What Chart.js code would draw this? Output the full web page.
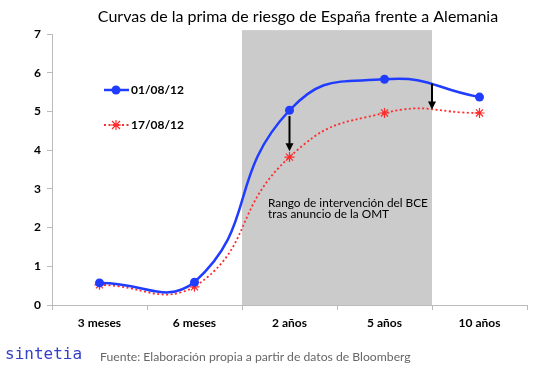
<!DOCTYPE html>
<html>
<head>
<meta charset="utf-8">
<script src="https://cdn.jsdelivr.net/npm/chart.js@4"></script>
<style>
  html, body { margin: 0; padding: 0; background: #fff; }
  #wrap { position: relative; width: 545px; height: 380px; }
  #logo { position: absolute; left: 5px; top: 344px; font: 16px 'DejaVu Sans Mono', monospace; color: #3540c8; }
  #source { position: absolute; left: 100px; top: 349px; font: 12.2px Lato, sans-serif; color: #666; }
</style>
</head>
<body>
<div id="wrap">
  <canvas id="myChart" width="545" height="380"></canvas>
  <div id="logo">sintetia</div>
  <div id="source">Fuente: Elaboración propia a partir de datos de Bloomberg</div>
</div>
<script>
const plazos = ['3 meses', '6 meses', '2 años', '5 años', '10 años'];
const prima0108 = [0.57, 0.59, 5.03, 5.83, 5.37];
const prima1708 = [0.52, 0.47, 3.82, 4.96, 4.96];
const yTicks = [0, 1, 2, 3, 4, 5, 6, 7];
// flechas: [posición en el eje x, desde, hasta]
const flechas = [[2, 4.88, 3.97], [3.5, 5.72, 5.05]];

// Zona gris, flechas, leyenda y texto
const extras = {
    id: 'extras',
    beforeDatasetsDraw: (chart) => {
        const ctx = chart.ctx;
        const x = chart.scales.x;
        const y = chart.scales.y;
        const left = (x.getPixelForValue(1) + x.getPixelForValue(2)) / 2;
        const right = (x.getPixelForValue(3) + x.getPixelForValue(4)) / 2;
        const top = y.getPixelForValue(7.1);
        const bottom = y.getPixelForValue(0);
        ctx.save();
        ctx.fillStyle = '#cbcbcb';
        ctx.fillRect(left, top, right - left, bottom - top);
        ctx.fillStyle = '#000';
        ctx.font = '11.8px Lato, sans-serif';
        ctx.textBaseline = 'alphabetic';
        ctx.fillText('Rango de intervención del BCE', left + 26, y.getPixelForValue(2.53));
        ctx.fillText('tras anuncio de la OMT', left + 26, y.getPixelForValue(2.26));
        ctx.restore();
    },
    afterDatasetsDraw: (chart) => {
        const ctx = chart.ctx;
        const x = chart.scales.x;
        const y = chart.scales.y;
        ctx.save();
        ctx.strokeStyle = '#000';
        ctx.fillStyle = '#000';
        ctx.lineWidth = 2;
        flechas.forEach((f) => {
            const i = Math.floor(f[0]);
            const px = f[0] === i ? x.getPixelForValue(i)
                : (x.getPixelForValue(i) + x.getPixelForValue(i + 1)) / 2;
            const y1 = y.getPixelForValue(f[1]);
            const y2 = y.getPixelForValue(f[2]);
            ctx.beginPath();
            ctx.moveTo(px, y1);
            ctx.lineTo(px, y2 - 6);
            ctx.stroke();
            ctx.beginPath();
            ctx.moveTo(px - 4, y2 - 8);
            ctx.lineTo(px + 4, y2 - 8);
            ctx.lineTo(px, y2);
            ctx.closePath();
            ctx.fill();
        });

        // Leyenda
        ctx.font = 'bold 12px Lato, sans-serif';
        ctx.textBaseline = 'middle';
        ctx.lineWidth = 2.5;
        ctx.strokeStyle = '#1f3cff';
        ctx.beginPath();
        ctx.moveTo(104, 90);
        ctx.lineTo(129, 90);
        ctx.stroke();
        ctx.fillStyle = '#1f3cff';
        ctx.beginPath();
        ctx.arc(116, 90, 4.5, 0, Math.PI * 2);
        ctx.fill();
        ctx.fillStyle = '#000';
        ctx.fillText('01/08/12', 131, 90);

        ctx.strokeStyle = '#ff2a2a';
        ctx.lineWidth = 1.8;
        ctx.setLineDash([2, 2.5]);
        ctx.beginPath();
        ctx.moveTo(104, 125);
        ctx.lineTo(129, 125);
        ctx.stroke();
        ctx.setLineDash([]);
        ctx.lineWidth = 1.2;
        ctx.beginPath();
        ctx.moveTo(112, 121); ctx.lineTo(120, 129);
        ctx.moveTo(120, 121); ctx.lineTo(112, 129);
        ctx.moveTo(116, 120); ctx.lineTo(116, 130);
        ctx.moveTo(111, 125); ctx.lineTo(121, 125);
        ctx.stroke();
        ctx.fillStyle = '#000';
        ctx.fillText('17/08/12', 131, 125);

        // Título
        ctx.font = '16px Lato, sans-serif';
        ctx.textAlign = 'center';
        ctx.fillText('Curvas de la prima de riesgo de España frente a Alemania', 298, 17);
        ctx.restore();
    }
};

const config = {
    type: 'line',
    data: {
        labels: plazos,
        datasets: [{
            label: '01/08/12',
            data: prima0108,
            borderColor: '#1f3cff',
            backgroundColor: '#1f3cff',
            borderWidth: 2.5,
            pointRadius: 4.5,
            pointBorderWidth: 0,
            tension: 0.5
        }, {
            label: '17/08/12',
            data: prima1708,
            borderColor: '#ff2a2a',
            backgroundColor: '#ff2a2a',
            borderWidth: 1.8,
            borderDash: [2, 2.5],
            pointStyle: 'star',
            pointRadius: 5,
            pointBorderWidth: 1.2,
            tension: 0.5
        }]
    },
    options: {
        responsive: false,
        animation: false,
        layout: { padding: { left: 0, right: 18, top: 34, bottom: 0 } },
        plugins: {
            legend: { display: false },
            title: { display: false },
            tooltip: { enabled: false }
        },
        scales: {
            x: {
                offset: true,
                afterFit: (scale) => { scale.height = 75; },
                border: { color: '#bbb', width: 1 },
                grid: { offset: true, drawOnChartArea: false, color: '#bbb', tickLength: 5 },
                ticks: { color: '#000', font: { family: 'Lato', size: 12, weight: 'bold' }, padding: 6 }
            },
            y: {
                min: 0,
                max: 7,
                afterFit: (scale) => { scale.width = 52; },
                afterBuildTicks: (scale) => { scale.ticks = yTicks.map((v) => ({ value: v })); },
                border: { color: '#bbb', width: 1 },
                grid: { drawOnChartArea: false, color: '#bbb', tickLength: 5 },
                ticks: { color: '#000', font: { family: 'Lato', size: 12, weight: 'bold' }, padding: 6 }
            }
        }
    },
    plugins: [extras]
};

const graph = new Chart(document.getElementById('myChart'), config);
</script>
</body>
</html>
